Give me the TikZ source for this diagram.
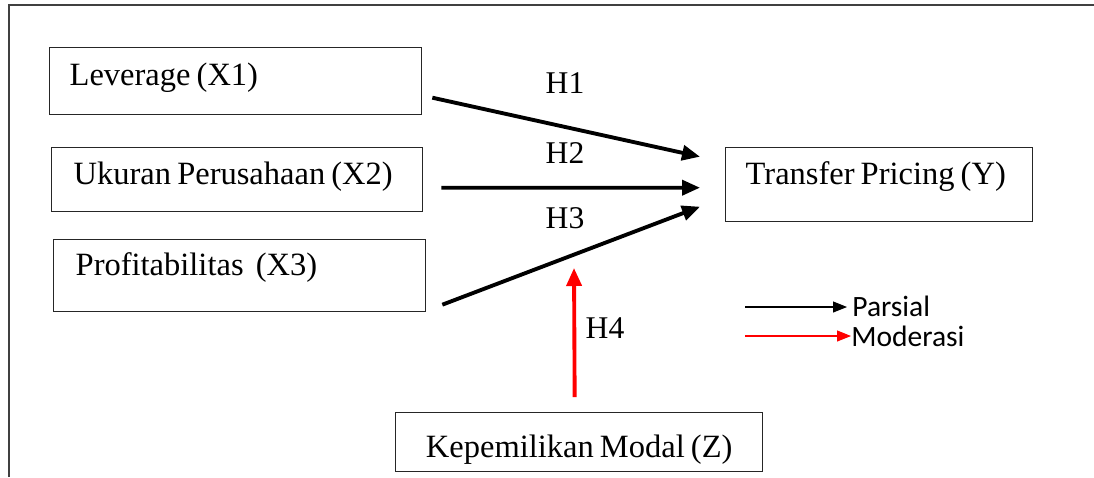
\documentclass[tikz,border=0pt]{standalone}
\usepackage{fontspec}
\setmainfont{Liberation Serif}[WordSpace=0.75]
\newfontfamily\legendfont{Carlito}
\usetikzlibrary{arrows.meta}
\tikzset{
	var/.style={draw=black!85, line width=0.8pt, anchor=north west, inner ysep=0pt, align=flush left, font=\fontsize{18.5}{22}\selectfont},
	hyp/.style={font=\fontsize{18}{21}\selectfont},
	legendtext/.style={anchor=west, inner sep=0pt, font=\legendfont\fontsize{16.8}{19}\selectfont},
	effect/.style={line width=2.2pt, -{Triangle[length=0.36cm,width=0.3cm]}},
	moderate/.style={red, line width=2.2pt, -{Triangle[length=0.36cm,width=0.3cm]}},
}
\begin{document}
\begin{tikzpicture}[x=0.02cm, y=-0.02cm]
	\useasboundingbox (0,0) rectangle (1094,477);
	\draw[black!75, line width=0.8pt] (9,477) -- (9,5) -- (1094,5);
	% variables
	\node[var, inner xsep=0.4cm, text width=6.64cm, text height=0.76cm, text depth=0.58cm] (x1) at (49,47) {Leverage (X1)};
	\node[var, inner xsep=0.44cm, text width=6.54cm, text height=0.74cm, text depth=0.54cm] (x2) at (51,147) {Ukuran Perusahaan (X2)};
	\node[var, inner xsep=0.44cm, text width=6.56cm, text height=0.72cm, text depth=0.72cm] (x3) at (53,239) {Profitabilitas~ (X3)};
	\node[var, inner xsep=0.4cm, text width=5.34cm, text height=0.74cm, text depth=0.74cm] (y) at (725,147) {\mbox{Transfer Pricing (Y)}};
	\node[var, inner xsep=0pt, minimum width=7.34cm, align=center, text height=0.9cm, text depth=0.28cm] (z) at (395,412) {Kepemilikan Modal (Z)};
	% hypotheses
	\draw[effect] ([xshift=0.2cm,yshift=-0.33cm]x1.east) -- ([xshift=-0.5cm,yshift=0.56cm]y.west);
	\draw[effect] ([xshift=0.36cm,yshift=-0.16cm]x2.east) -- ([xshift=-0.5cm,yshift=-0.06cm]y.west);
	\draw[effect] ([xshift=0.32cm,yshift=-0.58cm]x3.east) -- ([xshift=-0.5cm,yshift=-0.44cm]y.west);
	\coordinate (mod) at (574,268);
	\draw[moderate] ([xshift=-0.09cm,yshift=0.3cm]z.north) -- (mod);
	\node[hyp] (h1) at (565,83) {H1};
	\node[hyp] (h2) at (565,153) {H2};
	\node[hyp] (h3) at (565,218) {H3};
	\node[hyp] (h4) at (605,328) {H4};
	% legend
	\node[legendtext] (parsial) at (852,306) {Parsial};
	\node[legendtext] (moderasi) at (851,336) {Moderasi};
	\coordinate (lp) at (745,307);
	\coordinate (lm) at (745,336);
	\draw[line width=0.6pt, -{Triangle[length=0.28cm,width=0.22cm]}] (lp) -- ([xshift=-0.1cm]parsial.west |- lp);
	\draw[red, line width=0.6pt, -{Triangle[length=0.28cm,width=0.22cm]}] (lm) -- (moderasi.west);
\end{tikzpicture}
\end{document}
